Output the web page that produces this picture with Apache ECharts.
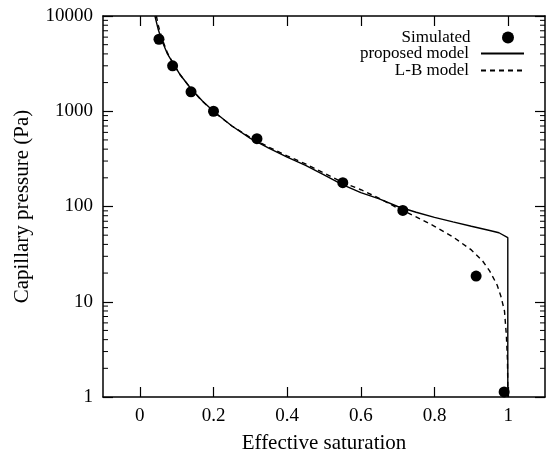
<!DOCTYPE html>
<html>
<head>
<meta charset="utf-8">
<script src="https://cdn.jsdelivr.net/npm/echarts@6/dist/echarts.min.js"></script>
<style>
  html, body { margin: 0; padding: 0; background: #fff; }
  #chart { width: 549px; height: 452px; }
</style>
</head>
<body>
<div id="chart"></div>
<script>
// simulated points
const simS = [0.052, 0.089, 0.139, 0.2, 0.318, 0.551, 0.714, 0.913, 0.989];
const simP = [5700, 3000, 1600, 1000, 515, 178, 91, 18.6, 1.13];

// proposed model (solid)
const propS = [0.041, 0.05, 0.06, 0.075, 0.09, 0.11, 0.14, 0.17, 0.2, 0.25, 0.3, 0.35, 0.4, 0.45, 0.5, 0.55, 0.6, 0.65, 0.7, 0.75, 0.8, 0.85, 0.9, 0.95, 0.975, 0.999, 0.999];
const propP = [10000, 7200, 5500, 4000, 3200, 2400, 1700, 1280, 1000, 700, 520, 410, 330, 270, 215, 170, 140, 120, 100, 87, 77, 69, 62, 56, 53, 47, 1];

// L-B model (dashed)
const lbS = [0.045, 0.05, 0.06, 0.075, 0.09, 0.11, 0.14, 0.17, 0.2, 0.25, 0.3, 0.35, 0.4, 0.45, 0.5, 0.55, 0.6, 0.65, 0.7, 0.75, 0.8, 0.85, 0.9, 0.93, 0.95, 0.97, 0.98, 0.99, 0.995, 0.998, 0.9995];
const lbP = [10000, 8000, 5800, 4100, 3200, 2400, 1700, 1270, 990, 700, 530, 420, 340, 280, 225, 180, 150, 122, 96, 78, 62, 48, 35, 27, 21, 15, 11.5, 8, 4.5, 2.5, 1];

const xTicks = [0, 0.2, 0.4, 0.6, 0.8, 1];
const yTicks = [1, 10, 100, 1000, 10000];
// minor ticks 2..9 in each decade
const minorTicks = [2, 3, 4, 5, 6, 7, 8, 9, 20, 30, 40, 50, 60, 70, 80, 90,
  200, 300, 400, 500, 600, 700, 800, 900, 2000, 3000, 4000, 5000, 6000, 7000, 8000, 9000];

const zip = (a, b) => a.map((v, i) => [v, b[i]]);
const font = "'Liberation Serif', 'Times New Roman', serif";

const chart = echarts.init(document.getElementById('chart'));

const baseX = {
  type: 'value', min: -0.1, max: 1.1, interval: 0.1,
  axisLine: { show: true, onZero: false, lineStyle: { color: '#000', width: 1.5 } },
  axisTick: { inside: true, length: 10, lineStyle: { color: '#000', width: 1.2 },
    customValues: xTicks },
  splitLine: { show: false }
};
const baseY = {
  type: 'log', logBase: 10, min: 1, max: 10000,
  axisLine: { show: true, onZero: false, lineStyle: { color: '#000', width: 1.5 } },
  axisTick: { inside: true, length: 10, lineStyle: { color: '#000', width: 1.2 } },
  splitLine: { show: false }
};

function legendFor(name, top, right, gap, hideSymbol) {
  const lg = {
    data: [name], orient: 'vertical', right: right, top: top, align: 'right',
    itemWidth: 43, itemHeight: 12, padding: 0, selectedMode: false,
    textStyle: { fontFamily: font, fontSize: 17, color: '#000', padding: [0, gap, 0, 0] }
  };
  if (hideSymbol) lg.itemStyle = { opacity: 0 };
  return lg;
}

chart.setOption({
  animation: false,
  grid: { left: 103, right: 4, top: 16, bottom: 55, containLabel: false, outerBoundsMode: 'none' },
  legend: [
    legendFor('Simulated', 29, 35, 11, false),
    legendFor('proposed model', 45, 24, 7, true),
    legendFor('L-B model', 62, 24, 7, true)
  ],
  xAxis: [
    Object.assign({}, baseX, {
      position: 'bottom',
      name: 'Effective saturation', nameLocation: 'middle', nameGap: 36, nameMoveOverlap: false,
      nameTextStyle: { fontFamily: font, fontSize: 21, color: '#000' },
      axisLabel: { fontFamily: font, fontSize: 19, color: '#000', margin: 10,
        customValues: xTicks, formatter: v => String(v) }
    }),
    Object.assign({}, baseX, { position: 'top', axisLabel: { show: false } })
  ],
  yAxis: [
    Object.assign({}, baseY, {
      position: 'left',
      name: 'Capillary pressure (Pa)', nameLocation: 'middle', nameGap: 70, nameMoveOverlap: false,
      nameTextStyle: { fontFamily: font, fontSize: 21, color: '#000' },
      axisLabel: { fontFamily: font, fontSize: 19, color: '#000', margin: 10,
        customValues: yTicks, formatter: v => String(v) }
    }),
    Object.assign({}, baseY, { position: 'right', axisLabel: { show: false } })
  ],
  series: [
    {
      name: 'proposed model', type: 'line', data: zip(propS, propP),
      symbol: 'none', smooth: false,
      lineStyle: { color: '#000', width: 1.4, type: 'solid' }, itemStyle: { color: '#000' }
    },
    {
      name: 'L-B model', type: 'line', data: zip(lbS, lbP),
      symbol: 'none', smooth: false,
      lineStyle: { color: '#000', width: 1.4, type: [5, 4] }, itemStyle: { color: '#000' }
    },
    {
      name: 'Simulated', type: 'scatter', data: zip(simS, simP),
      symbol: 'circle', symbolSize: 11, itemStyle: { color: '#000', opacity: 1 }
    },
    {
      // log minor ticks on left and right frame
      type: 'custom', silent: true, data: minorTicks.map(v => [0, v]),
      renderItem: function (params, api) {
        const y = api.coord([0, api.value(1)])[1];
        const cs = params.coordSys;
        return {
          type: 'group',
          children: [
            { type: 'line', shape: { x1: cs.x, y1: y, x2: cs.x + 5, y2: y },
              style: { stroke: '#000', lineWidth: 1 } },
            { type: 'line', shape: { x1: cs.x + cs.width - 5, y1: y, x2: cs.x + cs.width, y2: y },
              style: { stroke: '#000', lineWidth: 1 } }
          ]
        };
      }
    }
  ]
});
</script>
</body>
</html>
